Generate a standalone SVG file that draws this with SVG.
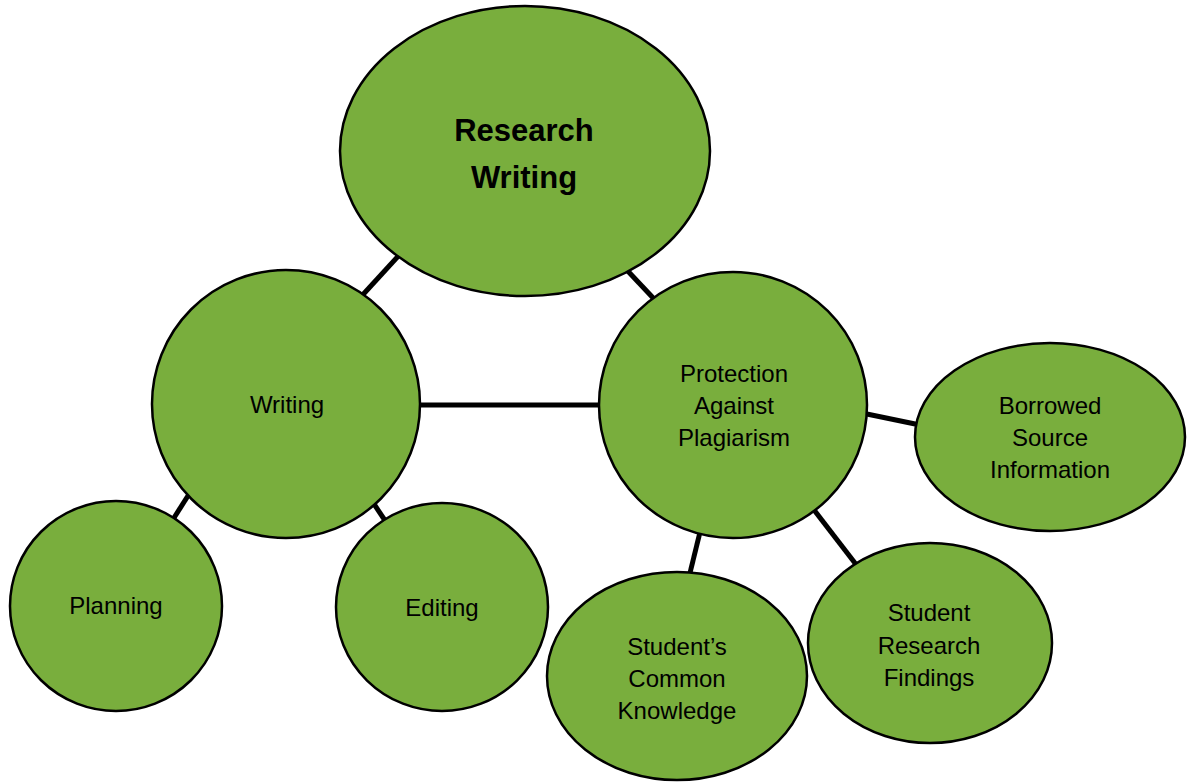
<svg xmlns="http://www.w3.org/2000/svg" width="1189" height="782" viewBox="0 0 1189 782">
<style>
.node{fill:#79ae3d;stroke:#000;stroke-width:2.5}
.edge{stroke:#000;stroke-width:5;fill:none}
.lbl{font-family:"Liberation Sans",Arial,sans-serif;font-size:24px;fill:#000;text-anchor:middle}
.title{font-family:"Liberation Sans",Arial,sans-serif;font-size:31px;font-weight:bold;fill:#000;text-anchor:middle}
</style>
<rect width="1189" height="782" fill="#fff"/>
<g id="connectors">
<line class="edge" x1="402" y1="252" x2="358" y2="300"/>
<line class="edge" x1="624" y1="267" x2="656" y2="301"/>
<line class="edge" x1="415" y1="405" x2="605" y2="405"/>
<line class="edge" x1="862" y1="413" x2="920" y2="425"/>
<line class="edge" x1="191" y1="491" x2="172" y2="521"/>
<line class="edge" x1="370" y1="498" x2="386" y2="522"/>
<line class="edge" x1="701" y1="528" x2="689" y2="577"/>
<line class="edge" x1="811" y1="506" x2="858" y2="567"/>
</g>
<g id="research-writing">
<ellipse class="node" cx="525" cy="151" rx="185" ry="145"/>
<text class="title" x="524" y="141">Research</text>
<text class="title" x="524" y="188">Writing</text>
</g>
<g id="writing">
<ellipse class="node" cx="286" cy="404" rx="134" ry="134"/>
<text class="lbl" x="287" y="413">Writing</text>
</g>
<g id="protection">
<ellipse class="node" cx="733" cy="405" rx="134" ry="133"/>
<text class="lbl" x="734" y="382">Protection</text>
<text class="lbl" x="734" y="414">Against</text>
<text class="lbl" x="734" y="446">Plagiarism</text>
</g>
<g id="borrowed">
<ellipse class="node" cx="1050" cy="437" rx="135" ry="94"/>
<text class="lbl" x="1050" y="414">Borrowed</text>
<text class="lbl" x="1050" y="446">Source</text>
<text class="lbl" x="1050" y="478">Information</text>
</g>
<g id="planning">
<ellipse class="node" cx="116" cy="606" rx="106" ry="105"/>
<text class="lbl" x="116" y="614">Planning</text>
</g>
<g id="editing">
<ellipse class="node" cx="442" cy="607" rx="106" ry="104"/>
<text class="lbl" x="442" y="616">Editing</text>
</g>
<g id="common-knowledge">
<ellipse class="node" cx="677" cy="676" rx="130" ry="104"/>
<text class="lbl" x="677" y="655">Student’s</text>
<text class="lbl" x="677" y="687">Common</text>
<text class="lbl" x="677" y="719">Knowledge</text>
</g>
<g id="research-findings">
<ellipse class="node" cx="930" cy="643" rx="122" ry="100"/>
<text class="lbl" x="929" y="621">Student</text>
<text class="lbl" x="929" y="654">Research</text>
<text class="lbl" x="929" y="686">Findings</text>
</g>
</svg>
